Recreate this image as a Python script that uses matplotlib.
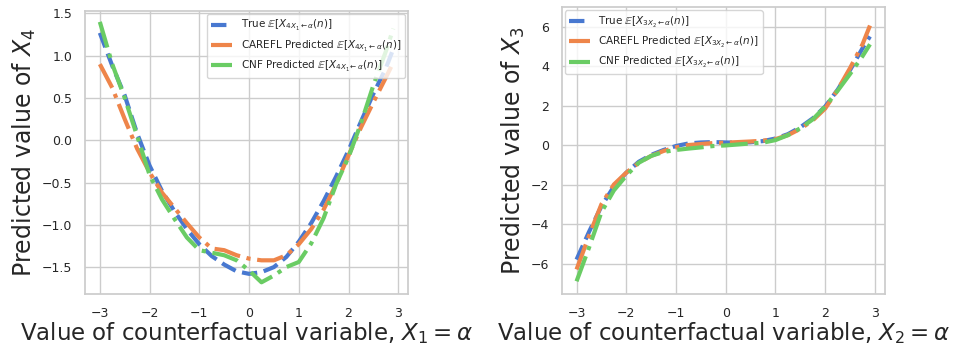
import numpy as np
import matplotlib
matplotlib.use("Agg")
import matplotlib.pyplot as plt
import seaborn as sns

# x grid of the counterfactual value
alpha = [-3, -2.75, -2.5, -2.25, -2, -1.75, -1.5, -1.25, -1, -0.75, -0.5, -0.25,
         0, 0.25, 0.5, 0.75, 1, 1.25, 1.5, 1.75, 2, 2.25, 2.5, 2.75, 2.9]

# left panel: X4 under intervention on X1
x4_true = [1.27, 0.88, 0.53, 0.08, -0.3, -0.6, -0.84, -1.05, -1.23, -1.37, -1.47, -1.55,
           -1.58, -1.56, -1.5, -1.38, -1.2, -0.98, -0.72, -0.43, -0.12, 0.22, 0.55, 0.85, 1.08]
x4_carefl = [0.9, 0.62, 0.25, -0.1, -0.38, -0.62, -0.8, -0.98, -1.15, -1.28, -1.3, -1.36,
             -1.4, -1.42, -1.42, -1.36, -1.23, -1.05, -0.82, -0.52, -0.18, 0.15, 0.45, 0.74, 0.92]
x4_cnf = [1.4, 0.9, 0.5, 0.05, -0.41, -0.7, -0.93, -1.15, -1.3, -1.33, -1.36, -1.42,
          -1.54, -1.68, -1.6, -1.5, -1.44, -1.22, -0.92, -0.52, -0.2, 0.2, 0.65, 1.05, 1.32]

# right panel: X3 under intervention on X2
x3_true = [-5.8, -4.4, -3.1, -2.1, -1.4, -0.85, -0.5, -0.25, -0.05, 0.08, 0.13, 0.15,
           0.13, 0.12, 0.14, 0.2, 0.33, 0.55, 0.9, 1.35, 1.95, 2.8, 3.8, 4.9, 5.5]
x3_carefl = [-6.3, -4.6, -3.0, -2.0, -1.4, -0.9, -0.55, -0.3, -0.12, 0.0, 0.05, 0.1,
             0.12, 0.15, 0.18, 0.22, 0.3, 0.5, 0.82, 1.25, 1.85, 2.8, 3.9, 5.1, 6.05]
x3_cnf = [-6.9, -5.2, -3.4, -2.3, -1.55, -0.9, -0.55, -0.35, -0.25, -0.18, -0.12, -0.05,
          -0.02, 0.03, 0.08, 0.12, 0.25, 0.5, 0.85, 1.3, 1.95, 2.75, 3.6, 4.5, 5.1]

sns.set_theme(style="whitegrid", palette="muted")
blue, orange, green = sns.color_palette("muted")[:3]

fig = plt.figure(figsize=(9.65, 3.51), dpi=100)
ax1 = fig.add_axes([0.088, 0.162, 0.335, 0.807])
ax2 = fig.add_axes([0.582, 0.162, 0.335, 0.817])

lw = 3

ax1.plot(alpha, x4_true, "--", color=blue, lw=lw,
         label=r"True $\mathbb{E}[X_{4X_1 \leftarrow \alpha}(n)]$")
ax1.plot(alpha, x4_carefl, "-.", color=orange, lw=lw,
         label=r"CAREFL Predicted $\mathbb{E}[X_{4X_1 \leftarrow \alpha}(n)]$")
ax1.plot(alpha, x4_cnf, "-.", color=green, lw=lw,
         label=r"CNF Predicted $\mathbb{E}[X_{4X_1 \leftarrow \alpha}(n)]$")
ax1.set_ylim(-1.82, 1.53)
ax1.set_xlim(-3.3, 3.2)
ax1.set_yticks([-1.5, -1.0, -0.5, 0.0, 0.5, 1.0, 1.5])
ax1.set_xlabel(r"Value of counterfactual variable, $X_1 = \alpha$", fontsize=16.5, labelpad=0)
ax1.set_ylabel(r"Predicted value of $X_4$", fontsize=17, labelpad=3)
ax1.legend(loc="upper right", fontsize=7.5, borderaxespad=0.3)

ax2.plot(alpha, x3_true, "--", color=blue, lw=lw,
         label=r"True $\mathbb{E}[X_{3X_2 \leftarrow \alpha}(n)]$")
ax2.plot(alpha, x3_carefl, "-.", color=orange, lw=lw,
         label=r"CAREFL Predicted $\mathbb{E}[X_{3X_2 \leftarrow \alpha}(n)]$")
ax2.plot(alpha, x3_cnf, "-.", color=green, lw=lw,
         label=r"CNF Predicted $\mathbb{E}[X_{3X_2 \leftarrow \alpha}(n)]$")
ax2.set_ylim(-7.55, 6.97)
ax2.set_xlim(-3.3, 3.2)
ax2.set_xlabel(r"Value of counterfactual variable, $X_2 = \alpha$", fontsize=16.5, labelpad=0)
ax2.set_ylabel(r"Predicted value of $X_3$", fontsize=17, labelpad=3)
ax2.legend(loc="upper left", fontsize=7.5, borderaxespad=0.3)

for ax in (ax1, ax2):
    ax.set_xticks([-3, -2, -1, 0, 1, 2, 3])
    ax.tick_params(labelsize=9, pad=3, colors="#262626")

fig.savefig("out.png", dpi=100)
